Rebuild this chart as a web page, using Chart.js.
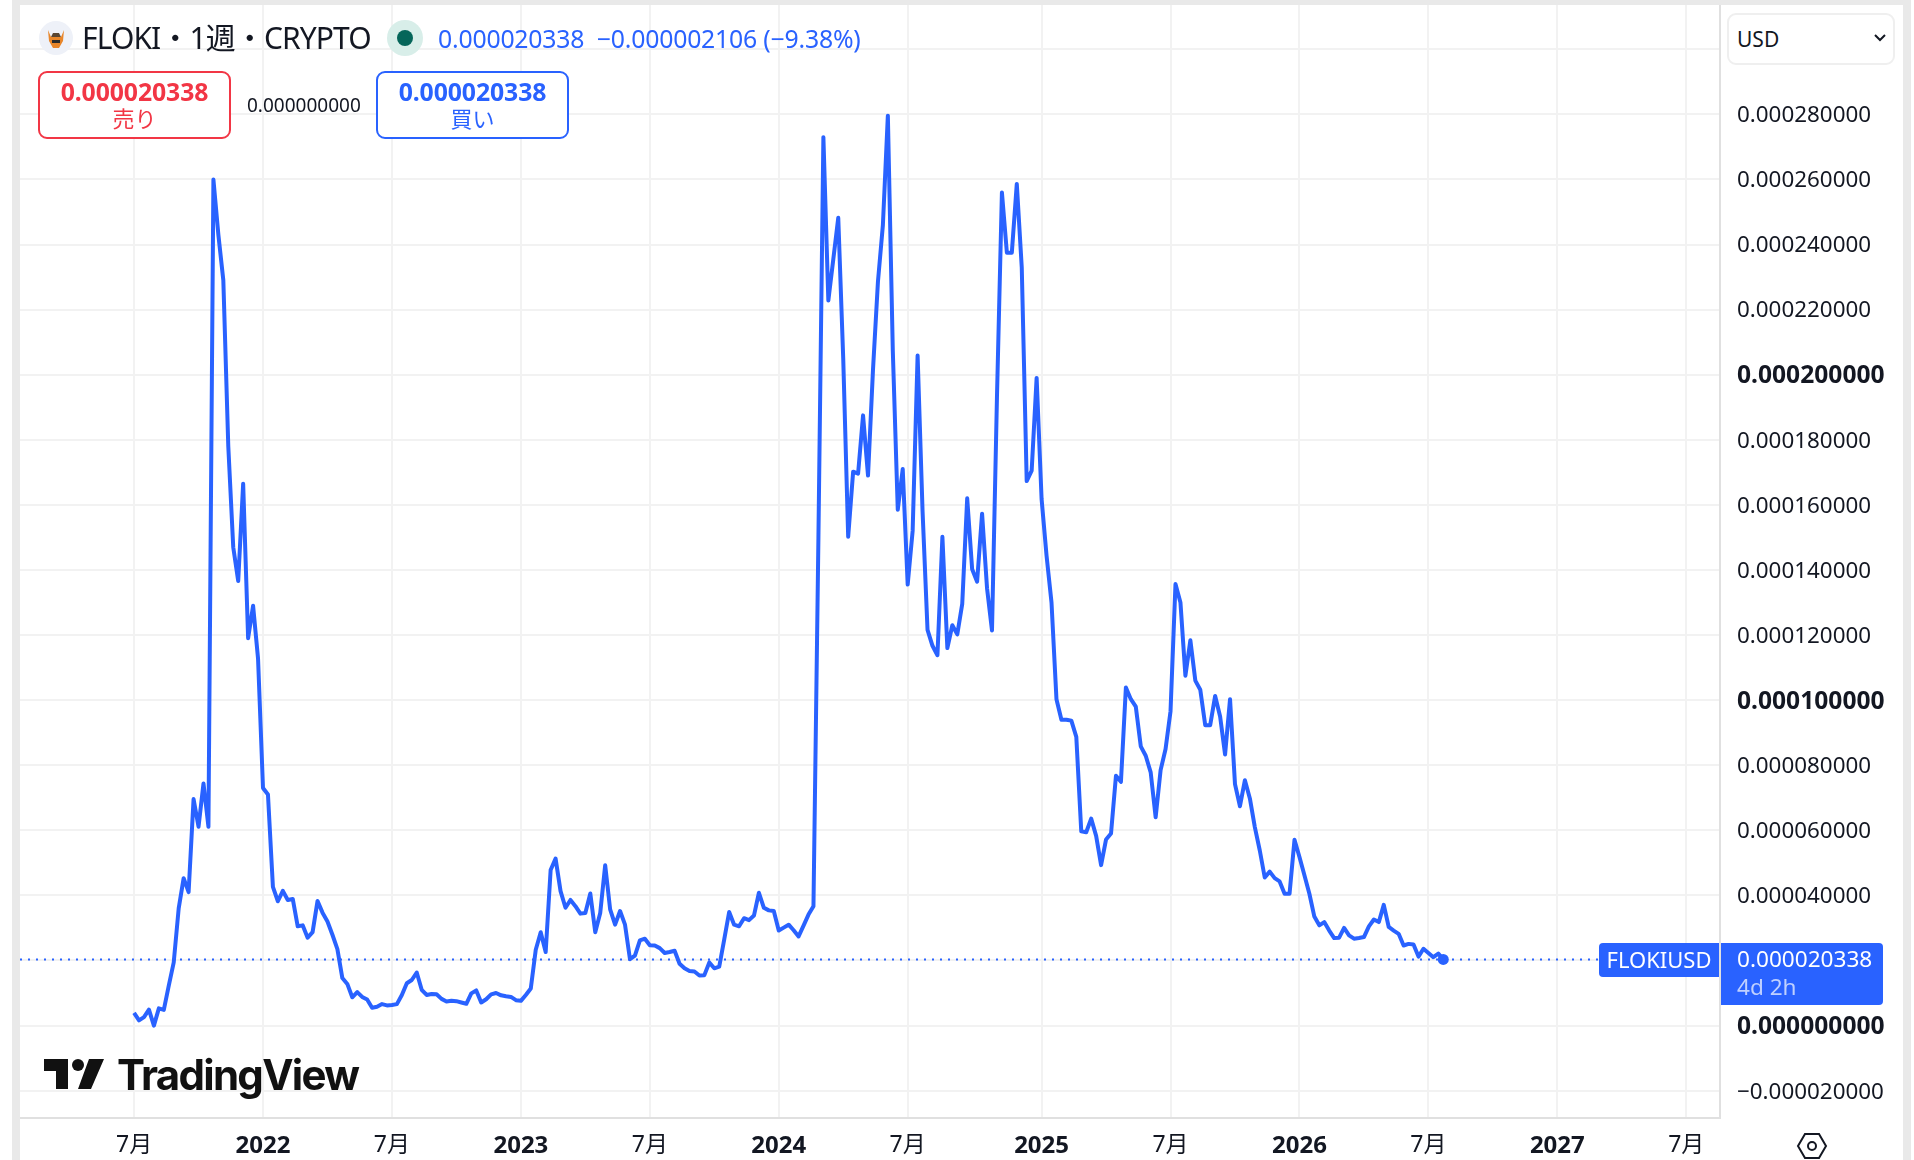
<!DOCTYPE html>
<html lang="ja">
<head>
<meta charset="utf-8">
<title>FLOKIUSD</title>
<script src="https://cdn.jsdelivr.net/npm/chart.js@4"></script>
<style>
  html, body { margin: 0; padding: 0; width: 1914px; height: 1160px; overflow: hidden; background: #fff; }
  body { font-family: "Noto Sans", "Noto Sans CJK JP", sans-serif; color: #131722; }
  .abs { position: absolute; white-space: nowrap; }
  #leftGap { position: absolute; left: 12px; top: 0; width: 8px; height: 1160px; background: #e9e9e9; }
  #topGap { position: absolute; left: 12px; top: 0; width: 1899px; height: 5px; background: #e9e9e9; }
  #rightGap { position: absolute; left: 1903px; top: 0; width: 8px; height: 1160px; background: #e9e9e9; }
  #panel { position: absolute; left: 20px; top: 5px; width: 1883px; height: 1155px; background: #fff; border-radius: 10px 10px 0 0; }
  canvas { position: absolute; left: 20px; top: 5px; }
  .box { position: absolute; top: 71px; height: 64px; width: 189px; border: 2px solid; border-radius: 9px; text-align: center; background: #fff; }
  .box b { display: block; font-size: 24.8px; line-height: 26px; margin-top: 5px; letter-spacing: -.1px; }
  .box span { display: block; font-size: 22px; line-height: 29px; }
  #usd { left: 1727px; top: 13px; width: 164px; height: 48px; border: 2px solid #efefef; border-radius: 9px; font-size: 21px; line-height: 48px; text-indent: 8px; background: #fff; }
  #flokiTag { left: 1599px; top: 943px; width: 120px; height: 34px; background: #2962ff; color: #fff; border-radius: 4px 0 0 4px; font-size: 22px; line-height: 33px; text-align: center; }
  #priceTag { left: 1721px; top: 943px; width: 162px; height: 62px; background: #2962ff; color: #fff; border-radius: 0 4px 4px 0; font-size: 22.6px; line-height: 28px; text-indent: 16px; }
  #priceTag div:first-child { margin-top: 2px; }
  #priceTag div:last-child { color: #bfd0ff; }
</style>
</head>
<body>
<div id="panel"></div>
<div id="topGap"></div>
<div id="leftGap"></div>
<div id="rightGap"></div>
<canvas id="priceChart" width="1883" height="1155"></canvas>

<!-- header row -->
<svg class="abs" style="left:39px;top:21px" width="34" height="34" viewBox="0 0 34 34">
  <circle cx="17" cy="17" r="17" fill="#eef1f8"/>
  <path d="M9 9 L12 16 L22 16 L25 9 L24 20 L20 27 L14 27 L10 20 Z" fill="#e8862a"/>
  <path d="M12 16 L22 16 L20 12 L14 12 Z" fill="#5a4632"/>
  <rect x="13" y="19" width="8" height="3" fill="#2b2b2b"/>
</svg>
<div class="abs" style="left:82px;top:17px;font-size:30px;line-height:42px;letter-spacing:-.9px">FLOKI・1週・CRYPTO</div>
<svg class="abs" style="left:387px;top:20px" width="36" height="36" viewBox="0 0 36 36">
  <circle cx="18" cy="18" r="18" fill="#d8eee9"/>
  <circle cx="18" cy="18" r="8" fill="#05665a"/>
</svg>
<div class="abs" style="left:438px;top:20px;font-size:24.8px;line-height:36px;color:#2962ff;letter-spacing:-.2px">0.000020338&nbsp; −0.000002106 (−9.38%)</div>

<!-- sell / spread / buy -->
<div class="box" style="left:38px;border-color:#f23645;color:#f23645"><b>0.000020338</b><span>売り</span></div>
<div class="abs" style="left:247px;top:92px;font-size:19px;line-height:26px">0.000000000</div>
<div class="box" style="left:376px;border-color:#2962ff;color:#2962ff"><b>0.000020338</b><span>買い</span></div>

<!-- currency select -->
<div id="usd" class="abs">USD
  <svg class="abs" style="left:144px;top:18px" width="14" height="10" viewBox="0 0 14 10"><path d="M2 2 L7 7 L12 2" fill="none" stroke="#131722" stroke-width="2"/></svg>
</div>

<!-- last price tags -->
<div id="flokiTag" class="abs">FLOKIUSD</div>
<div id="priceTag" class="abs"><div>0.000020338</div><div>4d 2h</div></div>

<!-- TradingView watermark -->
<svg class="abs" style="left:44px;top:1059px" width="60" height="30" viewBox="0 0 60 30">
  <path d="M0 0 H24 V30 H12 V12 H0 Z M45 0 H60 L47 30 H34 Z" fill="#111"/>
  <circle cx="34" cy="6" r="6" fill="#111"/>
</svg>
<div class="abs" style="left:117px;top:1048px;font-family:Inter,sans-serif;font-weight:700;font-size:42px;line-height:54px;letter-spacing:-1.7px;color:#111">TradingView</div>

<!-- settings hexagon -->
<svg class="abs" style="left:1796px;top:1132px" width="32" height="28" viewBox="0 0 32 28">
  <path d="M9 2 H23 L30 14 L23 26 H9 L2 14 Z" fill="none" stroke="#131722" stroke-width="2"/>
  <circle cx="16" cy="14" r="4" fill="none" stroke="#131722" stroke-width="2"/>
</svg>

<script>
// FLOKI / USD weekly closes, in millionths of a dollar.
// One list per half year, first one starts on the July 2021 gridline.
const closes2021H2 = [3.9, 1.6, 2.6, 4.9, 0, 5.3, 4.8, 12.3, 19.4, 36, 45.3, 41, 69.6, 61.1, 74.4, 61.1, 260, 243, 229, 178, 147, 136.6, 166.5, 119, 129, 112.8];
const closes2022H1 = [73, 71, 42.6, 38.2, 41.4, 38.6, 38.9, 30.5, 30.8, 27, 28.7, 38.3, 34.7, 32, 27.9, 23.5, 14.6, 12.8, 8.7, 10.3, 8.8, 8, 5.5, 5.8, 6.6, 6.2];
const closes2022H2 = [6.3, 6.6, 9.4, 13, 14, 16.3, 11, 9.4, 9.7, 9.6, 8.2, 7.4, 7.6, 7.5, 7.1, 6.7, 9.9, 10.8, 7.1, 8.1, 9.6, 10, 9.3, 9, 8.8, 7.8];
const closes2023H1 = [7.6, 9.4, 11.4, 23.3, 28.7, 22.6, 47.8, 51.3, 41.3, 36.2, 38.6, 36.7, 34.4, 34.6, 40.6, 28.7, 34.6, 49.3, 35.7, 31, 35.2, 31, 20.4, 21.5, 26.2, 26.7];
const closes2023H2 = [24.7, 24.6, 23.8, 22.3, 22.6, 23, 19, 17.6, 16.8, 16.6, 15.4, 15.5, 19.4, 17.6, 18.1, 26.4, 34.9, 31, 30.5, 33, 32.4, 33.8, 40.8, 36.2, 35.4, 35.2];
const closes2024H1 = [29.2, 30.1, 31, 29.3, 27.4, 30.7, 34.1, 36.7, 150, 273, 222.8, 235.5, 248.2, 205, 150.2, 170.2, 169.6, 187.5, 169, 201.4, 228.5, 246, 279.6, 207.3, 158.5, 171];
const closes2024H2 = [135.5, 152, 205.9, 158, 121.6, 116.7, 113.8, 150.2, 116, 123, 120.2, 129.6, 162, 140.2, 136.4, 157.3, 134.4, 121.4, 193, 256, 237.5, 237.5, 258.6, 233, 167.3, 170.5, 199];
const closes2025H1 = [161.8, 144.4, 130, 100.3, 94, 94, 93.7, 88.7, 59.7, 59.4, 63.6, 58.3, 49.3, 57.2, 59, 76.8, 74.9, 103.9, 100.3, 98, 85.8, 82.9, 77.8, 64, 78.5, 85];
const closes2025H2 = [96.6, 135.7, 130, 107.5, 118.4, 106, 103.2, 92.3, 92.3, 101.3, 95, 83.3, 100.3, 74.2, 67.4, 75.4, 69.8, 61, 53.8, 45.5, 47.3, 45.3, 44.3, 40.5, 40.5, 57.1];
const closes2026H1 = [51.8, 46.2, 40.5, 33.5, 30.8, 31.8, 29.2, 26.9, 27, 30, 27.7, 26.7, 26.9, 27.2, 30.5, 32.6, 31.8, 37.1, 30.3, 29.2, 28.2, 24.6, 25.1, 24.9, 21.2, 23.6];
const closes2026H2 = [22.3, 21, 22.1, 20.338];

const lastPrice = 20.338;

// Time axis: week number of each gridline and its label
const xTickWeeks = [0, 26, 52, 78, 104, 130, 156, 183, 209, 235, 261, 287, 313];
const xTickLabels = ['7月', '2022', '7月', '2023', '7月', '2024', '7月', '2025', '7月', '2026', '7月', '2027', '7月'];

// Price axis, same unit as the closes
const yTicks = [-20, 0, 20, 40, 60, 80, 100, 120, 140, 160, 180, 200, 220, 240, 260, 280, 300];
const yBoldTicks = [0, 100, 200];

// Visible window of both axes
const xMin = -23, xMax = 319.8;
const yMin = -28.4, yMax = 313.6;

const closes = [].concat(closes2021H2, closes2022H1, closes2022H2, closes2023H1, closes2023H2, closes2024H1,
  closes2024H2, closes2025H1, closes2025H2, closes2026H1, closes2026H2);
const linePoints = closes.map((v, i) => ({ x: i, y: v }));

const FONT = '"Noto Sans", "Noto Sans CJK JP", sans-serif';
const BLUE = '#2962ff';
const GRID = '#f2f2f2';
const AXIS = '#e0e0e0';

// Price label like TradingView: nine decimals and a real minus sign
function priceLabel(v) {
  if (v === 300) return ''; // sits behind the currency select
  const text = (Math.abs(v) / 1e6).toFixed(9);
  return v < 0 ? '\u2212' + text : text;
}

// Year labels are bold, months are not
function xTickFont(ctx) {
  const label = ctx.tick ? xTickLabels[xTickWeeks.indexOf(ctx.tick.value)] : '';
  const isYear = label && label.length === 4;
  return { family: FONT, size: isYear ? 24 : 23, weight: isYear ? 'bold' : 'normal' };
}

function yTickFont(ctx) {
  const bold = ctx.tick && yBoldTicks.includes(ctx.tick.value);
  return { family: FONT, size: bold ? 24.6 : 22.4, weight: bold ? 'bold' : 'normal' };
}

// Fixed axis sizes, and no room reserved for half a tick label at the ends
function fitXAxis(axis) {
  axis.height = 42;
  axis.paddingLeft = 0;
  axis.paddingRight = 0;
}

function fitYAxis(axis) {
  axis.width = 183;
  axis.paddingTop = 0;
  axis.paddingBottom = 0;
}

new Chart(document.getElementById('priceChart').getContext('2d'), {
  type: 'line',
  data: {
    datasets: [
      {
        label: 'FLOKIUSD',
        data: linePoints,
        borderColor: BLUE,
        backgroundColor: BLUE,
        borderWidth: 4,
        borderJoinStyle: 'round',
        tension: 0,
        pointBorderWidth: 0,
        pointRadius: ctx => (ctx.dataIndex === closes.length - 1 ? 5.5 : 0)
      },
      {
        label: 'last price',
        data: [{ x: xMin, y: lastPrice }, { x: xMax, y: lastPrice }],
        borderColor: BLUE,
        borderWidth: 2,
        borderDash: [2, 6],
        pointRadius: 0
      }
    ]
  },
  options: {
    responsive: false,
    animation: false,
    events: [],
    parsing: false,
    layout: { padding: 0, autoPadding: false },
    plugins: { legend: { display: false }, tooltip: { enabled: false } },
    scales: {
      x: {
        type: 'linear',
        min: xMin,
        max: xMax,
        afterBuildTicks: axis => { axis.ticks = xTickWeeks.map(v => ({ value: v })); },
        afterFit: fitXAxis,
        grid: { color: GRID, lineWidth: 2, drawTicks: false },
        border: { color: AXIS, width: 2 },
        ticks: {
          autoSkip: false,
          maxRotation: 0,
          padding: 14,
          color: '#131722',
          callback: v => xTickLabels[xTickWeeks.indexOf(v)],
          font: xTickFont
        }
      },
      y: {
        type: 'linear',
        position: 'right',
        min: yMin,
        max: yMax,
        afterBuildTicks: axis => { axis.ticks = yTicks.map(v => ({ value: v })); },
        afterFit: fitYAxis,
        grid: { color: GRID, lineWidth: 2, drawTicks: false },
        border: { color: AXIS, width: 2 },
        ticks: {
          autoSkip: false,
          padding: 17,
          labelOffset: 1.5,
          crossAlign: 'near',
          color: '#131722',
          callback: priceLabel,
          font: yTickFont
        }
      }
    }
  }
});
</script>
</body>
</html>
